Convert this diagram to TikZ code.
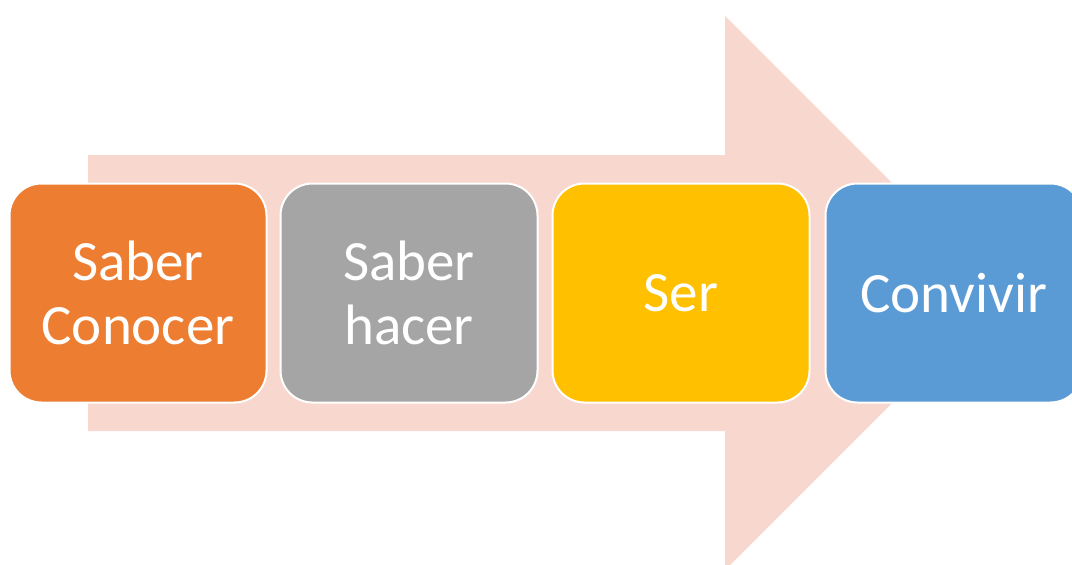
\documentclass[tikz,border=0pt]{standalone}
\usepackage{fontspec}
\setmainfont{Carlito}
\definecolor{arrowc}{HTML}{F8D8CE}
\definecolor{c1}{HTML}{ED7D31}
\definecolor{c2}{HTML}{A5A5A5}
\definecolor{c3}{HTML}{FFC000}
\definecolor{c4}{HTML}{5B9BD5}
\begin{document}
\begin{tikzpicture}[x=1pt,y=-1pt,
  box/.style={draw=white,line width=2pt,rounded corners=32pt,minimum width=257pt,minimum height=219pt,
    text=white,align=center,inner sep=0pt,font=\fontsize{57}{64}\selectfont}]
\useasboundingbox (0,0) rectangle (1072,565);
\clip (0,0) rectangle (1072,565);
\fill[arrowc] (88,155) -- (725,155) -- (725,16) -- (1002,293) -- (725,570) -- (725,431) -- (88,431) -- cycle;
\node[box,fill=c1] (b1) at (138,293) {Saber\\Conocer};
\node[box,fill=c2] (b2) at (409,293) {Saber\\hacer};
\node[box,fill=c3] (b3) at (681,293) {Ser};
\node[box,fill=c4] (b4) at (954,293) {Convivir};
\end{tikzpicture}
\end{document}
